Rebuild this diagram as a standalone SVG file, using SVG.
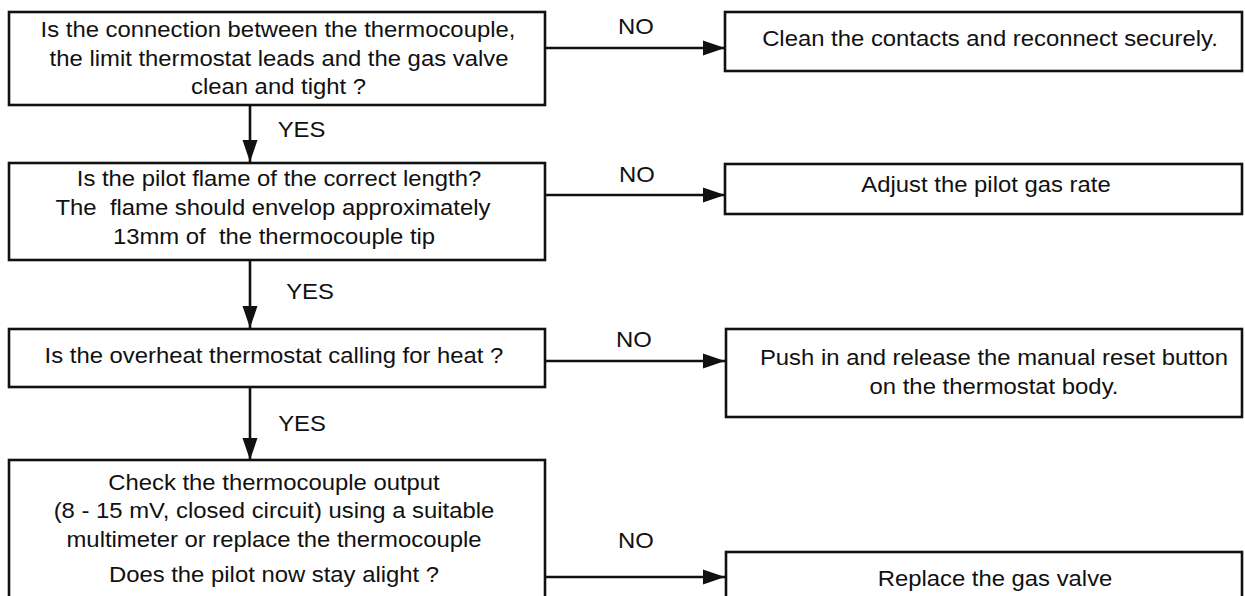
<svg xmlns="http://www.w3.org/2000/svg" width="1245" height="596" viewBox="0 0 1245 596">
<style>
.box{fill:#fff;stroke:#111;stroke-width:2.6}
.t{font-family:"Liberation Sans",Arial,sans-serif;font-size:21.5px;fill:#111;text-anchor:middle;white-space:pre}
.c{fill:none;stroke:#111;stroke-width:2.6}
</style>
<defs>
<marker id="ah" markerUnits="userSpaceOnUse" markerWidth="22" markerHeight="16" refX="22" refY="8" orient="auto">
<path d="M0,0.5 L22,8 L0,15.5 Z" fill="#111"/>
</marker>
</defs>
<rect width="1245" height="596" fill="#fff"/>
<g id="connectors">
<line class="c" x1="250" y1="105" x2="250" y2="162" marker-end="url(#ah)"/>
<line class="c" x1="250" y1="260" x2="250" y2="328" marker-end="url(#ah)"/>
<line class="c" x1="250" y1="387" x2="250" y2="460" marker-end="url(#ah)"/>
<line class="c" x1="545" y1="48" x2="725" y2="48" marker-end="url(#ah)"/>
<line class="c" x1="545" y1="195" x2="725" y2="195" marker-end="url(#ah)"/>
<line class="c" x1="545" y1="361" x2="725" y2="361" marker-end="url(#ah)"/>
<line class="c" x1="545" y1="577" x2="725" y2="577" marker-end="url(#ah)"/>
<text class="t" transform="matrix(1.11 0 0 1 301.5 0)" x="0" y="137">YES</text>
<text class="t" transform="matrix(1.11 0 0 1 310 0)" x="0" y="299">YES</text>
<text class="t" transform="matrix(1.11 0 0 1 302 0)" x="0" y="431">YES</text>
<text class="t" transform="matrix(1.11 0 0 1 636 0)" x="0" y="34">NO</text>
<text class="t" transform="matrix(1.11 0 0 1 637 0)" x="0" y="182">NO</text>
<text class="t" transform="matrix(1.11 0 0 1 634 0)" x="0" y="347">NO</text>
<text class="t" transform="matrix(1.11 0 0 1 636 0)" x="0" y="548">NO</text>
</g>
<g id="q1">
<rect class="box" x="9" y="12" width="536" height="93"/>
<text class="t" transform="matrix(1.11 0 0 1 278 0)" x="0" y="37.5">Is the connection between the thermocouple,</text>
<text class="t" transform="matrix(1.11 0 0 1 279 0)" x="0" y="66">the limit thermostat leads and the gas valve</text>
<text class="t" transform="matrix(1.11 0 0 1 278.5 0)" x="0" y="94">clean and tight ?</text>
</g>
<g id="a1">
<rect class="box" x="725" y="12" width="517" height="59"/>
<text class="t" transform="matrix(1.11 0 0 1 990 0)" x="0" y="46">Clean the contacts and reconnect securely.</text>
</g>
<g id="q2">
<rect class="box" x="9" y="163" width="536" height="97"/>
<text class="t" transform="matrix(1.11 0 0 1 279 0)" x="0" y="186.5">Is the pilot flame of the correct length?</text>
<text class="t" transform="matrix(1.11 0 0 1 273 0)" x="0" y="215.5">The  flame should envelop approximately</text>
<text class="t" transform="matrix(1.11 0 0 1 274 0)" x="0" y="244.5">13mm of  the thermocouple tip</text>
</g>
<g id="a2">
<rect class="box" x="725" y="164" width="517" height="50"/>
<text class="t" transform="matrix(1.11 0 0 1 986 0)" x="0" y="192.5">Adjust the pilot gas rate</text>
</g>
<g id="q3">
<rect class="box" x="9" y="329" width="536" height="58"/>
<text class="t" transform="matrix(1.11 0 0 1 274 0)" x="0" y="363.5">Is the overheat thermostat calling for heat ?</text>
</g>
<g id="a3">
<rect class="box" x="726" y="329" width="516" height="88"/>
<text class="t" transform="matrix(1.11 0 0 1 994 0)" x="0" y="365">Push in and release the manual reset button</text>
<text class="t" transform="matrix(1.11 0 0 1 994 0)" x="0" y="394">on the thermostat body.</text>
</g>
<g id="q4">
<rect class="box" x="9" y="460" width="536" height="150"/>
<text class="t" transform="matrix(1.11 0 0 1 274 0)" x="0" y="490">Check the thermocouple output</text>
<text class="t" transform="matrix(1.11 0 0 1 274 0)" x="0" y="518.5">(8 - 15 mV, closed circuit) using a suitable</text>
<text class="t" transform="matrix(1.11 0 0 1 274 0)" x="0" y="547">multimeter or replace the thermocouple</text>
<text class="t" transform="matrix(1.11 0 0 1 274 0)" x="0" y="582">Does the pilot now stay alight ?</text>
</g>
<g id="a4">
<rect class="box" x="726" y="552" width="516" height="60"/>
<text class="t" transform="matrix(1.11 0 0 1 995 0)" x="0" y="586">Replace the gas valve</text>
</g>
</svg>
